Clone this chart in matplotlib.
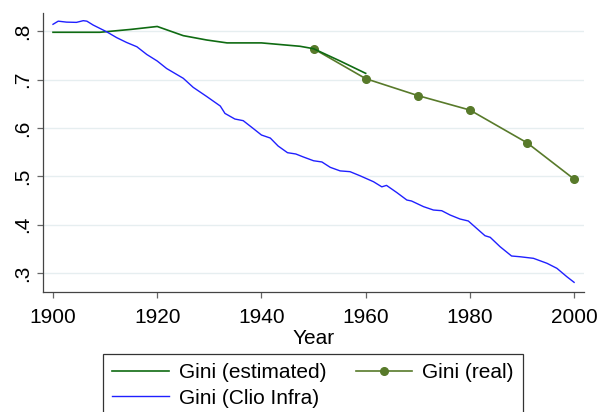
import matplotlib
matplotlib.use("Agg")
import matplotlib.pyplot as plt

plt.rcParams["font.family"] = ["Liberation Sans", "DejaVu Sans"]

# Gini (estimated)
est_years = [1900, 1905, 1909, 1915, 1920, 1925, 1929.5, 1933.4, 1940, 1947.4, 1950, 1955, 1960]
est_vals = [0.798, 0.798, 0.798, 0.804, 0.810, 0.791, 0.782, 0.776, 0.776, 0.769, 0.764, 0.739, 0.713]

# Gini (real)
real_years = [1950, 1960, 1970, 1980, 1991, 2000]
real_vals = [0.764, 0.702, 0.667, 0.637, 0.569, 0.494]

# Gini (Clio Infra)
clio_years = [1900, 1901, 1902.6, 1904.5, 1905.8, 1906.5, 1907.7, 1910.3, 1912.2, 1914.1,
              1916.1, 1918, 1920, 1921.8, 1925, 1926.9, 1929.5, 1932.1, 1933, 1934.9,
              1936.5, 1938.4, 1940, 1941.7, 1943.2, 1945, 1946.6, 1948, 1950, 1951.6,
              1953.2, 1955.1, 1957, 1958.9, 1961.5, 1963.1, 1964, 1966, 1967.9, 1968.8,
              1971.1, 1973, 1974.6, 1976.2, 1978.1, 1979.7, 1981.3, 1982.9, 1983.9, 1985.8,
              1988, 1989.6, 1992.2, 1994.8, 1996.7, 1998.6, 2000]
clio_vals = [0.8145, 0.821, 0.819, 0.8185, 0.822, 0.821, 0.813, 0.799, 0.787, 0.777,
             0.768, 0.752, 0.7385, 0.723, 0.7027, 0.684, 0.665, 0.6453, 0.630, 0.6184,
             0.615, 0.599, 0.5853, 0.579, 0.5625, 0.5487, 0.546, 0.540, 0.532, 0.5295,
             0.5184, 0.511, 0.5094, 0.501, 0.4886, 0.478, 0.481, 0.466, 0.4507, 0.4487,
             0.437, 0.430, 0.4286, 0.4197, 0.4114, 0.4073, 0.392, 0.3768, 0.3735, 0.354,
             0.3348, 0.3333, 0.330, 0.3197, 0.3093, 0.292, 0.2803]

x_ticks = [1900, 1920, 1940, 1960, 1980, 2000]
y_ticks = [0.3, 0.4, 0.5, 0.6, 0.7, 0.8]
y_labels = [".3", ".4", ".5", ".6", ".7", ".8"]

fig = plt.figure(figsize=(5.98, 4.12), dpi=100)
ax = fig.add_axes([43 / 598, 1 - 291.7 / 412, (584 - 43) / 598, (291.7 - 13) / 412])

l_est, = ax.plot(est_years, est_vals, color="#0f6b12", lw=1.2, label="Gini (estimated)", zorder=3)
l_real, = ax.plot(real_years, real_vals, color="#587a2a", lw=1.2, marker="o", ms=5.5,
                  label="Gini (real)", zorder=2)
l_clio, = ax.plot(clio_years, clio_vals, color="#2020ff", lw=1.0, label="Gini (Clio Infra)", zorder=3)

ax.set_xlim(1898.08, 2001.9)
ax.set_ylim(0.2609, 0.8379)
ax.set_xticks(x_ticks)
ax.set_yticks(y_ticks)
ax.set_yticklabels(y_labels, rotation=90, va="center")

for s in ["top", "right"]:
    ax.spines[s].set_visible(False)
for s in ["left", "bottom"]:
    ax.spines[s].set_color("#444444")
    ax.spines[s].set_linewidth(0.9)

ax.tick_params(axis="both", length=4, width=0.9, color="#666666", labelsize=15)
ax.tick_params(axis="x", pad=8)
ax.tick_params(axis="y", pad=4)
ax.grid(axis="y", color="#e6eef0", lw=1.0)
ax.set_axisbelow(True)

ax.set_xlabel("Year", fontsize=15, labelpad=1)

leg = fig.legend([l_est, l_clio, l_real],
                 ["Gini (estimated)", "Gini (Clio Infra)", "Gini (real)"],
                 ncol=2, loc="upper left", bbox_to_anchor=(103 / 598, 1 - 354 / 412),
                 fontsize=15, frameon=True, fancybox=False, edgecolor="black",
                 handlelength=2.7, handletextpad=0.5, columnspacing=1.4,
                 labelspacing=0.3, borderpad=0.45, borderaxespad=0)
leg.get_frame().set_linewidth(0.9)

fig.savefig("out.png", dpi=100)
